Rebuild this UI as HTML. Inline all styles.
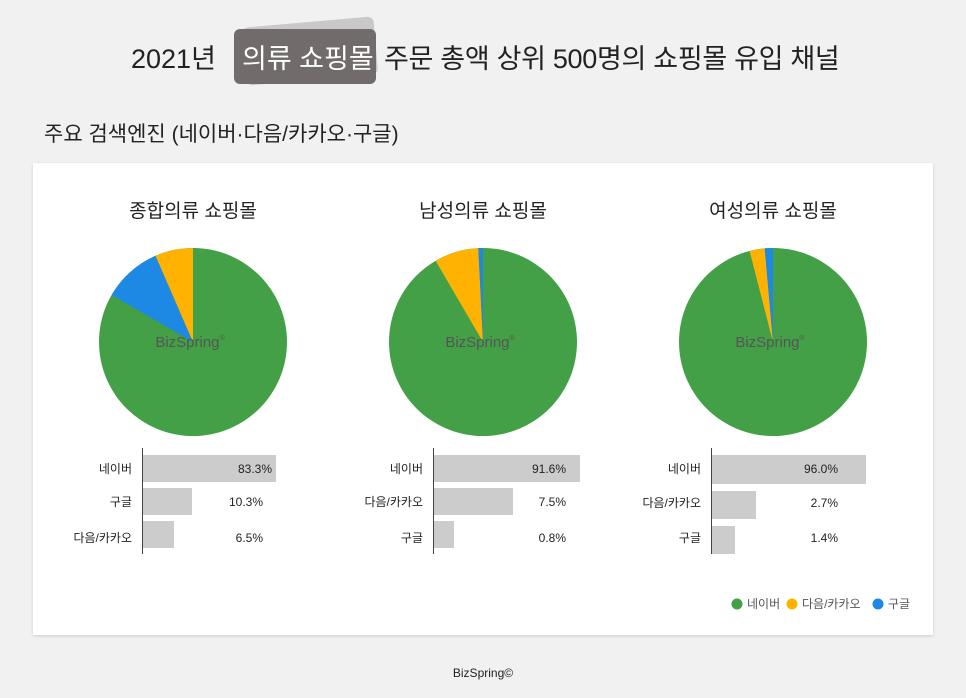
<!DOCTYPE html>
<html><head><meta charset="utf-8"><style>
body{margin:0;width:966px;height:698px;background:#f1f1f1;font-family:"Liberation Sans","Noto Sans CJK KR",sans-serif;position:relative;overflow:hidden;color:#222}
.t{position:absolute;white-space:nowrap}
</style></head><body>
<div class="t" style="left:131px;top:37px;font-size:27px;">2021년</div>
<div style="position:absolute;left:244px;top:22px;width:132px;height:58px;background:#c9c9c9;border-radius:6px;transform:rotate(-5deg)"></div>
<div style="position:absolute;left:234px;top:29px;width:142px;height:55px;background:#716c6b;border-radius:6px"></div>
<div class="t" style="left:242px;top:37px;font-size:27px;color:#fff">의류 쇼핑몰</div>
<div class="t" style="left:384px;top:37px;font-size:27px;letter-spacing:-0.3px">주문 총액 상위 500명의 쇼핑몰 유입 채널</div>
<div class="t" style="left:44px;top:118px;font-size:21px;">주요 검색엔진 (네이버·다음/카카오·구글)</div>
<div style="position:absolute;left:33px;top:163px;width:900px;height:472px;background:#fff;box-shadow:0 1px 3px rgba(0,0,0,.15)"></div>
<svg style="position:absolute;left:0;top:0" width="966" height="698" font-family="Liberation Sans, Noto Sans CJK KR, sans-serif">
<g font-size="19" fill="#222" text-anchor="middle">
<text x="193" y="217">종합의류 쇼핑몰</text>
<text x="483" y="217">남성의류 쇼핑몰</text>
<text x="773" y="217">여성의류 쇼핑몰</text>
</g>
<circle cx="193" cy="342" r="94" fill="#43a047"/>
<path d="M193,342 L111.6,295 A94,94 0 0 1 155.5,255.8 Z" fill="#1e88e5"/>
<path d="M193,342 L155.5,255.8 A94,94 0 0 1 193,248 Z" fill="#ffb300"/>
<circle cx="483" cy="342" r="94" fill="#43a047"/>
<path d="M483,342 L435.6,260.8 A94,94 0 0 1 478.3,248.1 Z" fill="#ffb300"/>
<path d="M483,342 L478.3,248.1 A94,94 0 0 1 483,248 Z" fill="#1e88e5"/>
<circle cx="773" cy="342" r="94" fill="#43a047"/>
<path d="M773,342 L749.6,251 A94,94 0 0 1 764.7,248.4 Z" fill="#ffb300"/>
<path d="M773,342 L764.7,248.4 A94,94 0 0 1 773,248 Z" fill="#1e88e5"/>
<g font-size="15" fill="#555" text-anchor="middle">
<text x="190" y="347">BizSpring<tspan font-size="7" dy="-7">®</tspan></text>
<text x="480" y="347">BizSpring<tspan font-size="7" dy="-7">®</tspan></text>
<text x="770" y="347">BizSpring<tspan font-size="7" dy="-7">®</tspan></text>
</g>
<g fill="#cccccc">
<rect x="143" y="455" width="133" height="27"/><rect x="143" y="488" width="49" height="27"/><rect x="143" y="521" width="31" height="27"/>
<rect x="434" y="455" width="146" height="27"/><rect x="434" y="488" width="79" height="27"/><rect x="434" y="521" width="20" height="27"/>
<rect x="712" y="455" width="154" height="29"/><rect x="712" y="491" width="44" height="28"/><rect x="712" y="526" width="23" height="28"/>
</g>
<g stroke="#444" stroke-width="1">
<line x1="142.5" y1="448" x2="142.5" y2="554"/>
<line x1="433.5" y1="448" x2="433.5" y2="554"/>
<line x1="711.5" y1="448" x2="711.5" y2="554"/>
</g>
<g font-size="12" fill="#222" text-anchor="end">
<text x="132" y="473">네이버</text><text x="132" y="506">구글</text><text x="132" y="542">다음/카카오</text>
<text x="272" y="473">83.3%</text><text x="263" y="506">10.3%</text><text x="263" y="542">6.5%</text>
<text x="423" y="473">네이버</text><text x="423" y="506">다음/카카오</text><text x="423" y="542">구글</text>
<text x="566" y="473">91.6%</text><text x="566" y="506">7.5%</text><text x="566" y="542">0.8%</text>
<text x="701" y="473">네이버</text><text x="701" y="507">다음/카카오</text><text x="701" y="542">구글</text>
<text x="838" y="473">96.0%</text><text x="838" y="507">2.7%</text><text x="838" y="542">1.4%</text>
</g>
<g font-size="12" fill="#555">
<circle cx="737" cy="604" r="5.5" fill="#43a047"/><text x="747" y="608">네이버</text>
<circle cx="792" cy="604" r="5.5" fill="#ffb300"/><text x="802" y="608">다음/카카오</text>
<circle cx="878" cy="604" r="5.5" fill="#1e88e5"/><text x="888" y="608">구글</text>
</g>
<text x="483" y="677" font-size="12" fill="#222" text-anchor="middle">BizSpring©</text>
</svg>
</body></html>
